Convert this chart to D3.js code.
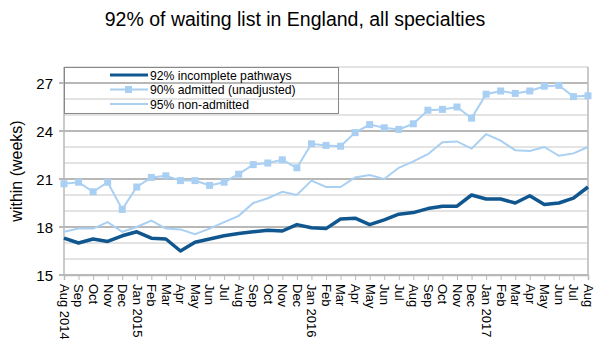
<!DOCTYPE html>
<html><head><meta charset="utf-8">
<script src="https://cdn.jsdelivr.net/npm/d3@7"></script>
<style>body{margin:0;background:#fff;}svg{display:block;font-family:"Liberation Sans",Arial,sans-serif;}</style>
</head><body><svg id="c" width="599" height="355"></svg>
<script>
const months = ["Aug","Sep","Oct","Nov","Dec","Jan","Feb","Mar","Apr","May","Jun","Jul",
  "Aug","Sep","Oct","Nov","Dec","Jan","Feb","Mar","Apr","May","Jun","Jul",
  "Aug","Sep","Oct","Nov","Dec","Jan","Feb","Mar","Apr","May","Jun","Jul","Aug"];
const tickLabels = ["Aug 2014","Sep","Oct","Nov","Dec","Jan 2015","Feb","Mar","Apr","May","Jun","Jul",
  "Aug","Sep","Oct","Nov","Dec","Jan 2016","Feb","Mar","Apr","May","Jun","Jul",
  "Aug","Sep","Oct","Nov","Dec","Jan 2017","Feb","Mar","Apr","May","Jun","Jul","Aug"];
const incomplete92 = [17.3,17.0,17.25,17.1,17.45,17.7,17.3,17.25,16.5,17.05,17.25,17.45,
  17.6,17.7,17.8,17.75,18.15,17.95,17.9,18.5,18.55,18.15,18.45,18.8,
  18.9,19.15,19.3,19.3,20.0,19.75,19.75,19.5,19.95,19.4,19.5,19.8,20.5];
const admitted90 = [20.7,20.8,20.2,20.8,19.1,20.5,21.1,21.2,20.9,20.9,20.6,20.8,
  21.3,21.9,22.0,22.2,21.7,23.2,23.1,23.05,23.9,24.4,24.2,24.1,
  24.45,25.3,25.35,25.5,24.8,26.3,26.5,26.35,26.5,26.8,26.85,26.15,26.2];
const nonAdmitted95 = [17.7,17.9,17.9,18.3,17.7,18.0,18.4,17.9,17.85,17.55,17.9,18.3,
  18.7,19.5,19.8,20.2,20.0,20.9,20.5,20.5,21.1,21.25,21.0,21.7,
  22.1,22.55,23.3,23.35,22.9,23.8,23.4,22.8,22.75,23.0,22.45,22.6,23.0];
const yMajor = [15,18,21,24,27];
const yMinor = [16,17,19,20,22,23,25,26,28];
const seriesNames = ["92% incomplete pathways","90% admitted (unadjusted)","95% non-admitted"];

const svg = d3.select("#c");
const L=64,R=588,T=67,B=275;
const x = d3.scaleLinear().domain([0,months.length-1]).range([L,R]);
const y = d3.scaleLinear().domain([15,28]).range([B,T]);

svg.append("text").attr("x",295).attr("y",26).attr("text-anchor","middle")
  .attr("font-size",19.5).attr("fill","#000").text("92% of waiting list in England, all specialties");

// grid
svg.append("g").selectAll("line").data(yMinor).join("line")
  .attr("x1",L).attr("x2",R).attr("y1",d=>y(d)).attr("y2",d=>y(d))
  .attr("stroke","#c8c8c8").attr("stroke-width",1);
svg.append("g").selectAll("line").data(yMajor).join("line")
  .attr("x1",L-5).attr("x2",R).attr("y1",d=>y(d)).attr("y2",d=>y(d))
  .attr("stroke","#b8b8b8").attr("stroke-width",2);
svg.append("line").attr("x1",R).attr("x2",R).attr("y1",T).attr("y2",B).attr("stroke","#b8b8b8").attr("stroke-width",1.5);
svg.append("line").attr("x1",L).attr("x2",L).attr("y1",T).attr("y2",B).attr("stroke","#b8b8b8").attr("stroke-width",1.5);

// y labels
svg.append("g").selectAll("text").data(yMajor).join("text")
  .attr("x",L-11).attr("y",d=>y(d)+5.5).attr("text-anchor","end").attr("font-size",15).text(d=>d);
svg.append("text").attr("transform","translate(22,171) rotate(-90)").attr("text-anchor","middle")
  .attr("font-size",16).text("within (weeks)");

// x axis
const xa = d3.axisBottom(x).tickValues(d3.range(months.length)).tickSize(5).tickFormat(i=>tickLabels[i]);
const gx = svg.append("g").attr("transform",`translate(0,${B})`).call(xa);
gx.select(".domain").attr("stroke","#b8b8b8").attr("stroke-width",1.5);
gx.selectAll(".tick line").attr("stroke","#b8b8b8");
gx.selectAll(".tick text").attr("font-size",13).attr("font-family","Liberation Sans, Arial, sans-serif")
  .attr("fill","#000").attr("text-anchor","start").attr("transform","rotate(90)")
  .attr("x",9).attr("y",0).attr("dy","0.35em");

const line = d3.line().x((d,i)=>x(i)).y(d=>y(d));
svg.append("path").datum(nonAdmitted95).attr("d",line).attr("fill","none").attr("stroke","#a9d0f2").attr("stroke-width",2);
svg.append("path").datum(admitted90).attr("d",line).attr("fill","none").attr("stroke","#a9d0f2").attr("stroke-width",2);
svg.append("g").selectAll("rect").data(admitted90).join("rect")
  .attr("x",(d,i)=>x(i)-3.5).attr("y",d=>y(d)-3.5).attr("width",7).attr("height",7).attr("fill","#a9d0f2");
svg.append("path").datum(incomplete92).attr("d",line).attr("fill","none").attr("stroke","#10568f").attr("stroke-width",3.5).attr("stroke-linejoin","round");

// legend
const lg = svg.append("g");
lg.append("rect").attr("x",L+0.5).attr("y",T+0.5).attr("width",274).attr("height",46).attr("fill","none").attr("stroke","#888");
const rows=[{c:"#10568f",w:3,sq:false},{c:"#a9d0f2",w:2,sq:true},{c:"#a9d0f2",w:2,sq:false}];
rows.forEach((r,k)=>{
  const yy = T+8+k*14.5;
  lg.append("line").attr("x1",110).attr("x2",148).attr("y1",yy).attr("y2",yy).attr("stroke",r.c).attr("stroke-width",r.w);
  if(r.sq) lg.append("rect").attr("x",125).attr("y",yy-3.5).attr("width",7).attr("height",7).attr("fill",r.c);
  lg.append("text").attr("x",150).attr("y",yy+4.5).attr("font-size",12.2).text(seriesNames[k]);
});
</script></body></html>
